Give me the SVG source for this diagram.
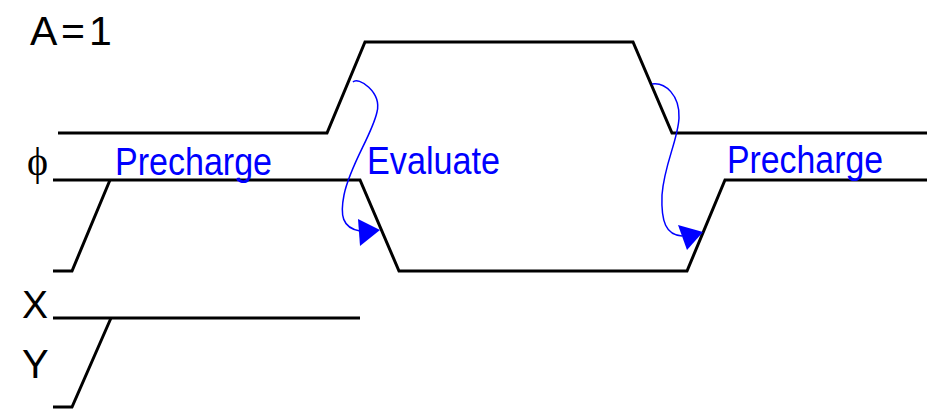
<svg xmlns="http://www.w3.org/2000/svg" width="927" height="410" viewBox="0 0 927 410">
<defs>
<style>
.w{fill:none;stroke:#000;stroke-width:3;stroke-linejoin:miter;stroke-linecap:butt}
.lbl{font-family:"Liberation Sans",Arial,sans-serif;fill:#000}
.blue{font-family:"Liberation Sans",Arial,sans-serif;fill:#0000ff;font-size:38px}
.arr{fill:none;stroke:#0000ff;stroke-width:1.5}
.head{fill:#0000ff}
</style>
</defs>
<rect width="927" height="410" fill="#fff"/>
<g id="label-a">
<text class="lbl" y="45" font-size="41"><tspan x="30">A</tspan><tspan x="61">=</tspan><tspan x="89">1</tspan></text>
</g>
<g id="label-phi">
<text x="27" y="175" font-family="'Liberation Serif','DejaVu Serif',serif" font-size="40" fill="#000">ϕ</text>
</g>
<g id="label-x"><text class="lbl" x="22" y="318" font-size="39">X</text></g>
<g id="label-y"><text class="lbl" x="22" y="378" font-size="40">Y</text></g>
<g id="wave-top">
<path class="w" d="M58 133 H327 L365 42 H633 L672 133 H927"/>
</g>
<g id="wave-phi">
<path class="w" d="M53 180 H360 L399 271 H687 L725 180 H927"/>
<path class="w" d="M53 271 H72 L110 180"/>
</g>
<g id="wave-xy">
<path class="w" d="M53 318 H360"/>
<path class="w" d="M53 407 H72 L111 318"/>
</g>
<g id="text-precharge-1"><text class="blue" x="115" y="175" textLength="157" lengthAdjust="spacingAndGlyphs">Precharge</text></g>
<g id="text-evaluate"><text class="blue" x="367" y="174" textLength="133" lengthAdjust="spacingAndGlyphs">Evaluate</text></g>
<g id="text-precharge-2"><text class="blue" x="727" y="173" textLength="156" lengthAdjust="spacingAndGlyphs">Precharge</text></g>
<g id="connectors">
<path class="arr" d="M353 82 C358 76 382 92 377 112 C372 135 350 165 344 195 C340 215 342 228 360 231"/>
<polygon class="head" points="358,219 380,230 360,246"/>
<path class="arr" d="M652 84 C665 82 680 95 679 118 C678 140 664 165 662 195 C661 222 666 235 682 236"/>
<polygon class="head" points="678,225 703,232 687,250"/>
</g>
</svg>
